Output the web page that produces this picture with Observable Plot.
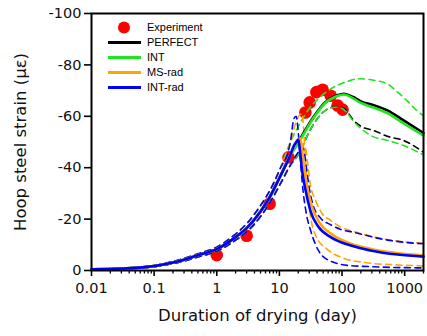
<!DOCTYPE html>
<html>
<head>
<meta charset="utf-8">
<script src="https://cdn.jsdelivr.net/npm/d3@7"></script>
<script src="https://cdn.jsdelivr.net/npm/@observablehq/plot@0.6"></script>
<style>
  html, body { margin: 0; padding: 0; background: #fff; }
  #wrap { position: relative; width: 427px; height: 336px; }
  #legend { position: absolute; left: 104px; top: 20px; font-family: "Liberation Sans", Arial, sans-serif; font-size: 11px; color: #000; }
  #legend .row { position: absolute; left: 0; height: 15px; width: 120px; }
  #legend .sw { position: absolute; left: 0; top: 0; }
  #legend .lab { position: absolute; left: 43px; top: 0px; line-height: 15px; white-space: nowrap; }
</style>
</head>
<body>
<div id="wrap"></div>
<script>
// ---------- data (day, strain in µε) ----------
const expDays   = [1.0, 3.0, 7.0, 14, 26, 30.5, 39, 49, 66, 85, 102];
const expStrain = [-6, -13.5, -26, -44, -61.5, -65.4, -69.4, -70.3, -68, -64.2, -62.6];

// rising branch shared by the solid curves
const riseSolid = [[0.01,-0.5],[0.03,-0.8],[0.1,-1.7],[0.2,-3.1],[0.3,-4.2],[0.5,-5.9],[1,-8.3],[2,-13],[3,-16.5],[5,-23],[7,-28.5],[10,-36],[15,-45]];
// rising branch of the early (upper) dashed bounds
const riseEarly = [[0.01,-0.6],[0.03,-0.9],[0.1,-1.9],[0.2,-3.5],[0.3,-4.7],[0.5,-6.5],[1,-9.1],[2,-14.2],[3,-18.2],[5,-25.3],[7,-31],[10,-39],[15,-50]];
// rising branch of the late (lower) dashed bounds
const riseLate  = [[0.01,-0.4],[0.03,-0.7],[0.1,-1.5],[0.2,-2.7],[0.3,-3.7],[0.5,-5.3],[1,-7.5],[2,-11.8],[3,-15],[5,-21],[7,-26.2],[10,-33],[15,-41]];

const perfectSolidTail = [[20,-50],[23,-52.5],[35,-59.7],[54,-65.5],[84,-68.2],[107,-68.8],[150,-67.5],[200,-65.8],[320,-64.3],[530,-62.3],[964,-58.4],[2000,-53.5]];
const intSolidTail     = [[20,-49.5],[23,-52],[35,-59.3],[54,-65.2],[84,-67.9],[107,-68.5],[150,-67],[200,-65.2],[320,-63.4],[530,-61.2],[964,-57.2],[2000,-52.5]];
const msradSolidTail   = [[18,-49.5],[20,-51],[21.5,-51.3],[22.5,-49],[24.5,-41],[28,-32],[33,-25],[44,-18.5],[70,-14],[140,-10.4],[300,-8.3],[800,-6.7],[2000,-5.9]];
const intradSolidTail  = [[17,-48.5],[19,-50.3],[20,-51],[21,-48],[23,-39],[26.3,-31],[31.5,-23],[42,-17],[66,-13],[138,-9.7],[283,-7.8],[770,-6.2],[2000,-5.4]];

const intUpperTail     = [[20,-56],[30,-63],[45,-67.5],[73,-71.3],[114,-73.3],[182,-74.6],[320,-74],[530,-72.6],[770,-69.4],[1100,-66],[1600,-62],[2000,-60.3]];
const perfectLowerTail = [[20,-45],[30,-54],[45,-60.5],[65,-63.3],[85,-63.8],[114,-62.5],[153,-58.4],[210,-55.8],[320,-54.5],[530,-52.2],[964,-50.6],[2000,-46]];
const intLowerTail     = [[20,-45],[30,-54],[45,-60.5],[65,-63.3],[85,-63.6],[114,-62],[153,-58],[210,-54.8],[320,-52],[530,-50.6],[964,-48.6],[2000,-45]];

const msradEarlyTail   = [[18,-57],[21,-60.5],[23,-61],[24.5,-54],[26,-44],[28,-32],[31,-22],[38,-13.6],[57,-8.4],[100,-5],[250,-3],[700,-2.2],[2000,-1.8]];
const intradEarlyTail  = [[17,-59],[18.5,-60],[20,-54],[21.5,-44],[23.2,-34],[27,-22],[31.5,-15.6],[42,-7.8],[61,-4],[123,-2],[280,-1.5],[2000,-1]];
const msradLateTail    = [[20,-46],[24,-49],[26.5,-47],[28.5,-41],[31,-34],[38,-27.2],[48.6,-22],[66,-19.5],[95,-16.9],[153,-15.2],[418,-12.5],[964,-11.2],[2000,-10.6]];
const intradLateTail   = [[20,-46],[23,-48],[25,-46],[27,-40],[30,-32],[34,-26],[45,-20.5],[66,-17.8],[95,-16],[153,-14.9],[418,-12.3],[964,-11],[2000,-10.4]];

const seriesNames  = ["PERFECT", "INT", "MS-rad", "INT-rad"];
const seriesColors = ["#000000", "#1ee61e", "#ffa500", "#0000ff"];

const xTicks = [0.01, 0.1, 1, 10, 100, 1000];
const xTickLabels = ["0.01", "0.1", "1", "10", "100", "1000"];
const yTicks = [0, -20, -40, -60, -80, -100];
const yTickLabels = ["0", "-20", "-40", "-60", "-80", "-100"];

// ---------- build tables ----------
const toRows = (pts, name) => pts.map(([d, s]) => ({day: d, strain: s, name}));
const dashed = [
  {pts: riseLate.concat(perfectLowerTail), c: 0},
  {pts: riseEarly.concat(intUpperTail), c: 1},
  {pts: riseLate.concat(intLowerTail), c: 1},
  {pts: riseEarly.concat(msradEarlyTail), c: 2},
  {pts: riseLate.concat(msradLateTail), c: 2},
  {pts: riseEarly.concat(intradEarlyTail), c: 3},
  {pts: riseLate.concat(intradLateTail), c: 3}
];
const solid = [
  {pts: riseSolid.concat(perfectSolidTail), c: 0},
  {pts: riseSolid.concat(intSolidTail), c: 1},
  {pts: riseSolid.concat(msradSolidTail), c: 2},
  {pts: riseSolid.concat(intradSolidTail), c: 3}
];
const expData = expDays.map((d, i) => ({day: d, strain: expStrain[i]}));

const minor = [];
for (let e = -2; e <= 3; e++) for (let k = 2; k <= 9; k++) { const v = k * Math.pow(10, e); if (v <= 2000) minor.push(v); }

const marks = [];
marks.push(Plot.dot(expData, {x: "day", y: "strain", r: 6.3, fill: "#ff0000", stroke: "none"}));
for (const s of dashed) {
  marks.push(Plot.line(toRows(s.pts, seriesNames[s.c]), {x: "day", y: "strain", stroke: seriesColors[s.c], strokeWidth: 1.6, strokeDasharray: "6,4.5", curve: "monotone-x"}));
}
for (const s of solid) {
  marks.push(Plot.line(toRows(s.pts, seriesNames[s.c]), {x: "day", y: "strain", stroke: seriesColors[s.c], strokeWidth: 2.6, curve: "monotone-x"}));
}
marks.push(Plot.axisX(minor, {tickSize: 3.5, strokeWidth: 1.3, tickFormat: () => "", label: null}));
marks.push(Plot.axisX(xTicks, {tickSize: 6, tickPadding: 6, strokeWidth: 1.6, tickFormat: (d) => xTickLabels[xTicks.indexOf(d)], fontSize: 14.5, fill: "#111", label: null}));
marks.push(Plot.axisY(yTicks, {tickSize: 7, tickPadding: 3, strokeWidth: 1.6, tickFormat: (d) => yTickLabels[yTicks.indexOf(d)], fontSize: 14.5, fill: "#111", label: null}));
marks.push(Plot.frame({stroke: "#000", strokeWidth: 2}));
marks.push(Plot.text(["Duration of drying (day)"], {frameAnchor: "bottom", dy: 50, fontSize: 16.5, fill: "#111"}));
marks.push(Plot.text(["Hoop steel strain (\u03bc\u03b5)"], {frameAnchor: "left", dx: -71, rotate: -90, textAnchor: "middle", fontSize: 16.5, fill: "#111"}));

const chart = Plot.plot({
  width: 427, height: 336,
  marginLeft: 91, marginRight: 4, marginTop: 13, marginBottom: 66,
  style: {fontFamily: "DejaVu Sans, sans-serif", background: "#fff", overflow: "visible"},
  x: {type: "log", domain: [0.01, 2000], axis: null},
  y: {domain: [0, -100], axis: null},
  marks
});
const wrap = document.getElementById("wrap");
wrap.appendChild(chart);

// ---------- legend overlay ----------
const legend = document.createElement("div");
legend.id = "legend";
const rows = [{label: "Experiment", dot: true}].concat(seriesNames.map((n, i) => ({label: n, color: seriesColors[i]})));
rows.forEach((r, i) => {
  const row = document.createElement("div");
  row.className = "row";
  row.style.top = (i * 15) + "px";
  const sw = r.dot
    ? `<svg class="sw" width="40" height="15"><circle cx="20" cy="7.5" r="6" fill="#ff0000"/></svg>`
    : `<svg class="sw" width="40" height="15"><line x1="4" x2="37" y1="7.5" y2="7.5" stroke="${r.color}" stroke-width="3"/></svg>`;
  row.innerHTML = sw + `<span class="lab">${r.label}</span>`;
  legend.appendChild(row);
});
wrap.appendChild(legend);
</script>
</body>
</html>
